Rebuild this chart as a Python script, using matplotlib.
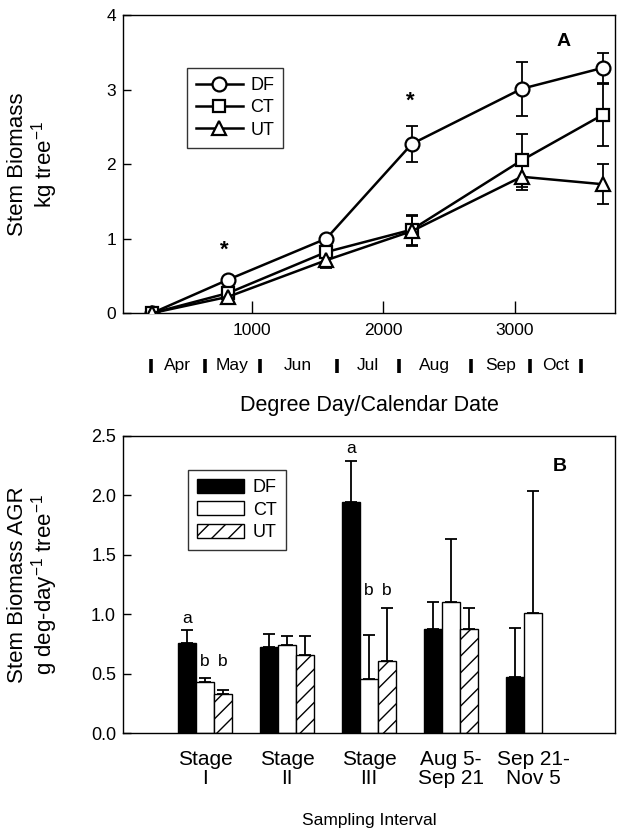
import matplotlib
matplotlib.use('Agg')
import matplotlib.pyplot as plt
import numpy as np
from matplotlib.transforms import blended_transform_factory

plt.rcParams['font.family'] = ['Liberation Sans', 'DejaVu Sans']
plt.rcParams['hatch.linewidth'] = 1.0
plt.rcParams['mathtext.fontset'] = 'custom'
plt.rcParams['mathtext.rm'] = 'Liberation Sans'
plt.rcParams['mathtext.it'] = 'Liberation Sans:italic'
plt.rcParams['mathtext.bf'] = 'Liberation Sans:bold'

# ---------- Panel A data ----------
degree_days = [240, 820, 1565, 2215, 3050, 3665]
df_mass = [0.0, 0.45, 1.0, 2.27, 3.01, 3.29]
ct_mass = [0.0, 0.27, 0.82, 1.12, 2.05, 2.66]
ut_mass = [0.0, 0.22, 0.71, 1.10, 1.83, 1.73]
df_err = [0.02, 0.03, 0.04, 0.24, 0.36, 0.20]
ct_err = [0.02, 0.03, 0.05, 0.20, 0.36, 0.42]
ut_err = [0.02, 0.03, 0.10, 0.20, 0.18, 0.27]
month_labels = ['Apr', 'May', 'Jun', 'Jul', 'Aug', 'Sep', 'Oct']
month_bounds = [229, 643, 1060, 1644, 2118, 2664, 3116, 3503]
star_x = [790, 2205]
star_y = [0.85, 2.85]

# ---------- Panel B data ----------
intervals = ['Stage\nI', 'Stage\nII', 'Stage\nIII', 'Aug 5-\nSep 21', 'Sep 21-\nNov 5']
df_agr = [0.758, 0.725, 1.944, 0.876, 0.472]
ct_agr = [0.427, 0.739, 0.458, 1.104, 1.011]
ut_agr = [0.331, 0.660, 0.607, 0.876, np.nan]
df_agr_err = [0.107, 0.105, 0.346, 0.224, 0.416]
ct_agr_err = [0.036, 0.076, 0.365, 0.528, 1.023]
ut_agr_err = [0.034, 0.155, 0.449, 0.177, np.nan]
letters_df = ['a', '', 'a', '', '']
letters_ct = ['b', '', 'b', '', '']
letters_ut = ['b', '', 'b', '', '']

fig = plt.figure(figsize=(6.17, 8.35), dpi=100)

# ================= Panel A =================
ax1 = fig.add_axes([0.1994, 0.625, 0.7974, 0.357])
series = [('DF', df_mass, df_err, 'o', 10),
          ('CT', ct_mass, ct_err, 's', 9),
          ('UT', ut_mass, ut_err, '^', 10)]
for name, vals, err, mk, ms in series:
    ax1.errorbar(degree_days, vals, yerr=err, fmt='none', ecolor='black',
                 elinewidth=1.3, capsize=4.5, capthick=1.3, zorder=2)
    ax1.plot(degree_days, vals, '-', color='black', lw=1.8, marker=mk,
             ms=ms, mfc='white', mec='black', mew=1.6, label=name, zorder=3)

ax1.set_xlim(20, 3760)
ax1.set_ylim(0, 4)
ax1.set_xticks([1000, 2000, 3000])
ax1.set_yticks([0, 1, 2, 3, 4])
ax1.tick_params(direction='in', width=1, labelsize=12.5, pad=5)
ax1.tick_params(axis='y', length=6)
ax1.tick_params(axis='x', length=9, pad=7)
for s in ax1.spines.values():
    s.set_linewidth(1.0)

for x, y in zip(star_x, star_y):
    ax1.text(x, y, '*', ha='center', va='center', fontsize=16, fontweight='bold')
ax1.text(3370, 3.64, 'A', ha='center', va='center', fontsize=14, fontweight='bold')

leg1 = ax1.legend(loc='upper left', bbox_to_anchor=(0.13, 0.823), frameon=True,
                  fancybox=False, edgecolor='black', fontsize=13,
                  handlelength=2.6, numpoints=1, borderpad=0.5,
                  labelspacing=0.3, handletextpad=0.4, borderaxespad=0)
leg1.get_frame().set_linewidth(1.0)

trans = blended_transform_factory(ax1.transData, ax1.transAxes)
for b in month_bounds:
    ax1.plot([b, b], [-0.2, -0.153], color='black', lw=2.6, transform=trans,
             clip_on=False, solid_capstyle='butt')
for i, m in enumerate(month_labels):
    xm = 0.5 * (month_bounds[i] + month_bounds[i + 1])
    ax1.text(xm, -0.177, m, transform=trans, ha='center', va='center', fontsize=12.5)

ax1.set_xlabel('Degree Day/Calendar Date', fontsize=15.5, labelpad=41)
ax1.set_ylabel('Stem Biomass\nkg tree$^{-1}$', fontsize=16, linespacing=1.05)
ax1.yaxis.set_label_coords(-0.128, 0.5)

# ================= Panel B =================
ax2 = fig.add_axes([0.1994, 0.122, 0.7974, 0.356])
x = np.arange(1, len(intervals) + 1)
w = 0.218
ax2.bar(x - w, df_agr, w, color='black', edgecolor='black', lw=1.0, label='DF', zorder=2)
ax2.bar(x, ct_agr, w, color='white', edgecolor='black', lw=1.0, label='CT', zorder=2)
ax2.bar(x + w, ut_agr, w, color='white', edgecolor='black', lw=1.0, hatch='//',
        label='UT', zorder=2)

for off, vals, err in [(-w, df_agr, df_agr_err), (0, ct_agr, ct_agr_err),
                       (w, ut_agr, ut_agr_err)]:
    ax2.errorbar(x + off, vals, yerr=[np.zeros(len(vals)), err], fmt='none',
                 ecolor='black', elinewidth=1.3, capsize=4.5, capthick=1.3, zorder=1)

tops_ct = np.array(ct_agr) + np.array(ct_agr_err)
tops_ut = np.nan_to_num(np.array(ut_agr) + np.array(ut_agr_err))
tops_df = np.array(df_agr) + np.array(df_agr_err)
for off, labs in [(-w, letters_df), (0, letters_ct), (w, letters_ut)]:
    for i, lab in enumerate(labs):
        if not lab:
            continue
        if lab == 'a':
            yy = tops_df[i] + 0.04
        else:
            yy = max(tops_ct[i], tops_ut[i]) + 0.08
        ax2.text(x[i] + off, yy, lab, ha='center', va='bottom', fontsize=12.5)

ax2.set_xlim(0, 6)
ax2.set_ylim(0, 2.5)
ax2.set_xticks(x)
ax2.set_xticklabels(intervals, fontsize=15, linespacing=1.0)
ax2.set_yticks([0.0, 0.5, 1.0, 1.5, 2.0, 2.5])
ax2.set_yticklabels(['0.0', '0.5', '1.0', '1.5', '2.0', '2.5'])
ax2.tick_params(axis='y', direction='in', length=6, width=1, labelsize=13, pad=5)
ax2.tick_params(axis='x', length=0, pad=12)
for s in ax2.spines.values():
    s.set_linewidth(1.0)
ax2.text(5.33, 2.24, 'B', ha='center', va='center', fontsize=14, fontweight='bold')

leg2 = ax2.legend(loc='upper left', bbox_to_anchor=(0.132, 0.886), frameon=True,
                  fancybox=False, edgecolor='black', fontsize=13,
                  handlelength=2.6, handleheight=0.8, borderpad=0.5,
                  labelspacing=0.3, handletextpad=0.5, borderaxespad=0)
leg2.get_frame().set_linewidth(1.0)

ax2.set_xlabel('Sampling Interval', fontsize=12.5, labelpad=18)
ax2.set_ylabel('Stem Biomass AGR\ng deg-day$^{-1}$ tree$^{-1}$', fontsize=16,
               linespacing=1.05)
ax2.yaxis.set_label_coords(-0.128, 0.5)

fig.savefig('out.png', dpi=100)
